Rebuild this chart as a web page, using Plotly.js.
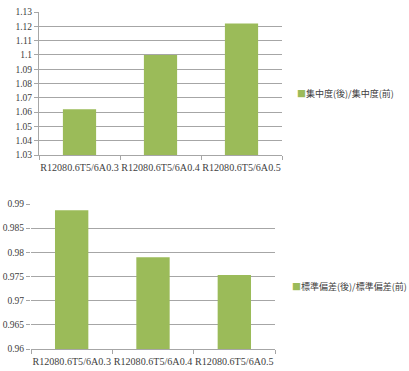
<!DOCTYPE html>
<html><head><meta charset="utf-8">
<script src="https://cdn.plot.ly/plotly-3.0.1.min.js"></script>
<style>html,body{margin:0;padding:0;background:#fff}#c{width:409px;height:371px}</style>
</head><body><div id="c"></div>
<script>
const categories = ["R12080.6T5/6A0.3", "R12080.6T5/6A0.4", "R12080.6T5/6A0.5"];
const concentrationRatio = [1.062, 1.100, 1.122];
const stdRatio = [0.9887, 0.9790, 0.9753];
const seriesName1 = "集中度(後)/集中度(前)";
const seriesName2 = "標準偏差(後)/標準偏差(前)";
const yTicks1 = [1.03, 1.04, 1.05, 1.06, 1.07, 1.08, 1.09, 1.1, 1.11, 1.12, 1.13];
const yTicks2 = [0.96, 0.965, 0.97, 0.975, 0.98, 0.985, 0.99];

const W = 409, H = 371;
const green = "#9BBB59";
const grid = "#a6a6a6";
const txt = "#404040";
const fnt = {family: "Liberation Serif, Noto Sans CJK JP", size: 9.5, color: txt};
const xfnt = {family: "Liberation Serif, Noto Sans CJK JP", size: 10.1, color: txt};
const px = (a, b) => [a / W, b / W];
const py = (top, bot) => [(H - bot) / H, (H - top) / H];

const traces = [
  {type: "bar", x: categories, y: concentrationRatio, name: seriesName1,
   marker: {color: green}, xaxis: "x", yaxis: "y", hoverinfo: "none"},
  {type: "bar", x: categories, y: stdRatio, name: seriesName2,
   marker: {color: green}, xaxis: "x2", yaxis: "y2", hoverinfo: "none"}
];

const layout = {
  width: W, height: H,
  margin: {l: 0, r: 0, t: 0, b: 0},
  paper_bgcolor: "#fff", plot_bgcolor: "#fff",
  showlegend: false,
  bargap: 0.59,
  font: fnt,
  xaxis: {domain: px(39, 282), anchor: "y", type: "category", tickson: "boundaries",
    ticks: "outside", ticklen: 4, tickcolor: grid, showline: true, linecolor: grid,
    showgrid: false, tickfont: xfnt, tickangle: 0, ticklabelstandoff: 3,
    automargin: false, fixedrange: true},
  yaxis: {domain: py(12, 155), anchor: "x", range: [1.03, 1.13], tickvals: yTicks1,
    ticktext: yTicks1.map(v => String(v)), ticks: "outside", ticklen: 4, tickcolor: grid,
    showline: true, linecolor: grid, showgrid: true, gridcolor: grid, zeroline: false,
    tickfont: fnt, automargin: false, fixedrange: true},
  xaxis2: {domain: px(31, 275), anchor: "y2", type: "category", tickson: "boundaries",
    ticks: "outside", ticklen: 4, tickcolor: grid, showline: true, linecolor: grid,
    showgrid: false, tickfont: xfnt, tickangle: 0, ticklabelstandoff: 3,
    automargin: false, fixedrange: true},
  yaxis2: {domain: py(204, 349), anchor: "x2", range: [0.96, 0.99], tickvals: yTicks2,
    ticktext: yTicks2.map(v => String(v)), ticks: "outside", ticklen: 4, tickcolor: grid,
    showline: false, showgrid: true, gridcolor: grid, zeroline: false,
    tickfont: fnt, automargin: false, fixedrange: true},
  annotations: [
    {xref: "paper", yref: "paper", x: 295 / W, y: 1 - 93 / H, xanchor: "left", yanchor: "middle",
     showarrow: false, text: '<span style="color:' + green + '">■</span>' + seriesName1,
     font: {family: "Noto Sans CJK JP", size: 9, color: txt}},
    {xref: "paper", yref: "paper", x: 290 / W, y: 1 - 286 / H, xanchor: "left", yanchor: "middle",
     showarrow: false, text: '<span style="color:' + green + '">■</span>' + seriesName2,
     font: {family: "Noto Sans CJK JP", size: 9, color: txt}}
  ]
};

Plotly.newPlot("c", traces, layout, {displayModeBar: false, staticPlot: true});
</script></body></html>
